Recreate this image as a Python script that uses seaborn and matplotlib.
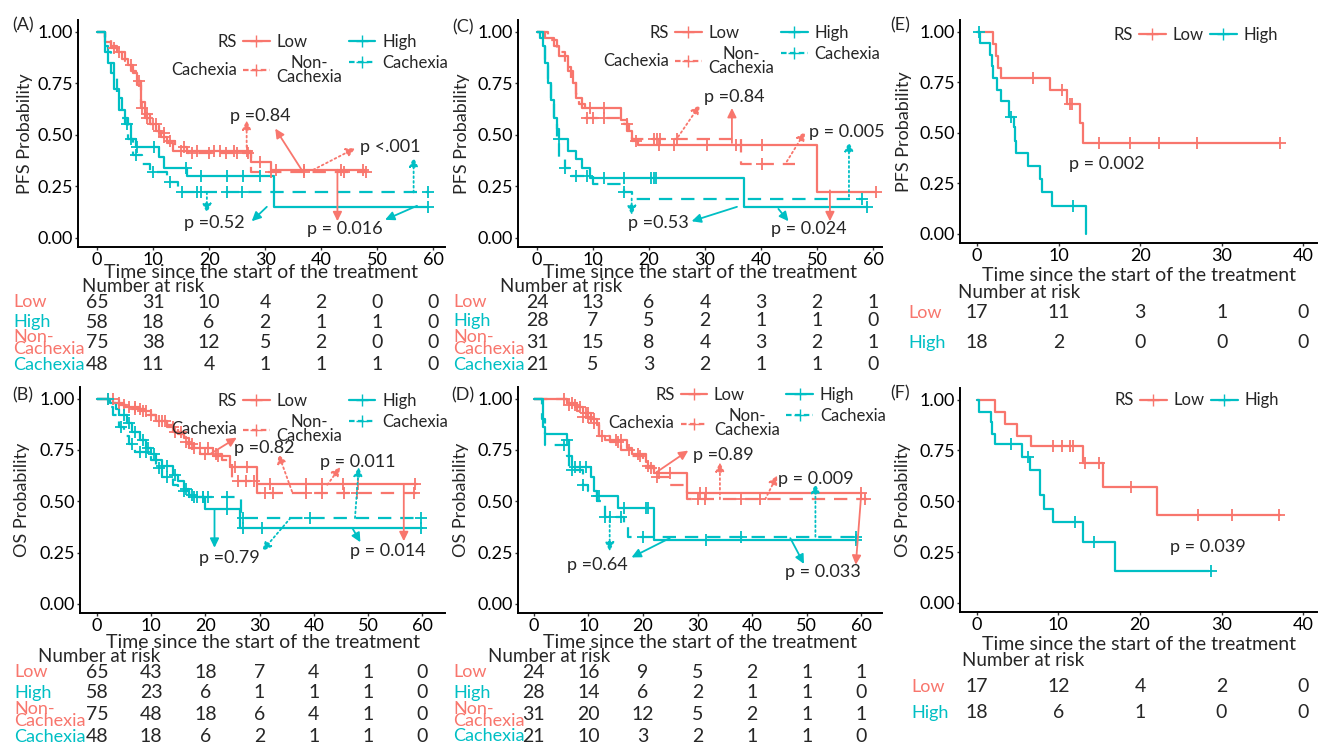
import numpy as np
import pandas as pd
import matplotlib
matplotlib.use("Agg")
import matplotlib.pyplot as plt
import matplotlib.transforms as mtransforms
from matplotlib.lines import Line2D
import seaborn as sns

sns.set_theme(style="ticks")
plt.rcParams["font.family"] = ["Lato", "DejaVu Sans"]

RED = "#F8766D"
CYAN = "#00BFC4"
W, H = 1318, 744

# ---------------- (A) PFS, RS and cachexia ----------------
a_low_t = [1.5, 2.5, 3.5, 4.5, 5.5, 6.5, 7.2, 7.8, 8.5, 9.5, 10.5, 11.5, 12.5, 13.5, 27.5, 31]
a_low_s = [0.95, 0.92, 0.90, 0.87, 0.84, 0.80, 0.74, 0.63, 0.58, 0.55, 0.52, 0.49, 0.46, 0.42, 0.37, 0.33]
a_low_end = 48
a_low_cens = [3, 6, 8, 9, 10, 11, 12, 14.9, 17.9, 20.8, 22, 24.4, 26.8, 29, 32, 36.9, 43.5, 47.5]
a_nc_t = [1.5, 2.5, 3.5, 5, 6, 7, 7.8, 8.5, 9.5, 11, 12.5, 14, 16, 27.5]
a_nc_s = [0.96, 0.93, 0.90, 0.86, 0.81, 0.76, 0.66, 0.60, 0.55, 0.51, 0.47, 0.44, 0.41, 0.32]
a_nc_end = 48
a_nc_cens = [4, 7.5, 9, 10.5, 12, 13, 15.5, 17, 20, 23, 25, 27, 31, 37, 44, 48]
a_high_t = [1.5, 2, 3, 4, 5, 6, 7, 11, 12, 16, 31.5]
a_high_s = [0.93, 0.85, 0.72, 0.62, 0.55, 0.48, 0.44, 0.39, 0.34, 0.30, 0.15]
a_high_end = 59
a_high_cens = [5.4, 7.1, 10.1, 15.8, 18.5, 23.2, 26, 29, 59]
a_cx_t = [1.5, 2.5, 3.5, 4.5, 5.5, 6.5, 8, 9.5, 12.5, 14.5]
a_cx_s = [0.90, 0.80, 0.68, 0.58, 0.48, 0.40, 0.36, 0.32, 0.27, 0.22]
a_cx_end = 59
a_cx_cens = [6, 7, 10, 13, 15.2, 17.9, 18.5, 23.2, 25.9, 59]
a_p_text = ["p =0.84", "p <.001", "p =0.52", "p = 0.016"]
a_p_x = [29.1, 52.3, 20.9, 44.3]
a_p_y = [0.59, 0.44, 0.07, 0.04]
a_arrows = [(36.5, 0.33, 31.8, 0.53, "red", "-"), (26.7, 0.44, 26.7, 0.57, "red", ":"),
            (38.6, 0.33, 46.1, 0.435, "red", ":"), (56.5, 0.22, 56.5, 0.39, "cyan", ":"),
            (19.6, 0.22, 19.6, 0.12, "cyan", ":"), (30.3, 0.15, 27.6, 0.08, "cyan", "-"),
            (42.9, 0.33, 42.9, 0.08, "red", "-"), (57.1, 0.155, 51.4, 0.087, "cyan", "-")]
a_risk_low = [65, 31, 10, 4, 2, 0, 0]
a_risk_high = [58, 18, 6, 2, 1, 1, 0]
a_risk_nc = [75, 38, 12, 5, 2, 0, 0]
a_risk_cx = [48, 11, 4, 1, 1, 1, 0]

# ---------------- (B) OS, RS and cachexia ----------------
b_low_t = [3, 5, 8, 10, 11, 13, 14, 16, 17, 18, 21.5, 24.5, 29.5]
b_low_s = [0.98, 0.96, 0.94, 0.92, 0.89, 0.87, 0.84, 0.81, 0.78, 0.76, 0.72, 0.665, 0.585]
b_low_end = 59
b_low_cens = [2, 4, 6, 7, 8.5, 9, 11.5, 12.5, 14.5, 15.5, 17.5, 19, 20.5, 22.4, 25.5, 27.6, 32,
              38.6, 41.6, 45.4, 48.2, 58.6]
b_nc_t = [4, 6, 9, 11, 13, 15, 16, 17, 19, 23, 25, 29.5]
b_nc_s = [0.97, 0.95, 0.92, 0.89, 0.86, 0.83, 0.79, 0.76, 0.73, 0.70, 0.60, 0.54]
b_nc_end = 59
b_nc_cens = [3, 5, 7, 8, 10, 12, 14, 16.5, 18, 20, 22, 26, 27.5, 29, 31, 32.5, 38.5, 41.5, 45.5, 48, 58.5]
b_high_t = [2.5, 3.5, 4, 5.5, 6.5, 8, 9, 10, 11, 12, 14, 15, 16, 17, 18, 19.9, 26.4]
b_high_s = [0.98, 0.95, 0.92, 0.88, 0.84, 0.80, 0.76, 0.73, 0.70, 0.67, 0.63, 0.60, 0.56, 0.53, 0.52,
            0.46, 0.37]
b_high_end = 60
b_high_cens = [2, 5, 6, 7, 8.5, 9.5, 10.5, 12, 13, 14.5, 16.5, 17.5, 18.5, 19.5, 24, 27, 30.4, 59.8]
b_cx_t = [2, 3, 4, 5, 6, 7, 10, 11, 12, 14, 15, 17, 26.5]
b_cx_s = [0.96, 0.92, 0.86, 0.82, 0.78, 0.74, 0.70, 0.66, 0.62, 0.58, 0.55, 0.52, 0.42]
b_cx_end = 60
b_cx_cens = [4.5, 6.5, 8, 9, 11.5, 13, 16, 18, 19.5, 20.5, 24, 27, 39.3, 59.8]
b_p_text = ["p =0.82", "p = 0.011", "p =0.79", "p = 0.014"]
b_p_x = [30.9, 48.1, 24.4, 53.6]
b_p_y = [0.76, 0.69, 0.225, 0.257]
b_arrows = [(20.9, 0.73, 25.8, 0.81, "red", "-"), (36.0, 0.547, 33.5, 0.73, "red", ":"),
            (42.5, 0.58, 44.9, 0.667, "red", ":"), (47.6, 0.418, 48.3, 0.667, "cyan", ":"),
            (21.7, 0.458, 21.7, 0.273, "cyan", "-"), (35.7, 0.418, 30.5, 0.257, "cyan", ":"),
            (56.6, 0.58, 56.6, 0.305, "red", "-"), (47.1, 0.37, 48.6, 0.30, "cyan", "-")]
b_risk_low = [65, 43, 18, 7, 4, 1, 0]
b_risk_high = [58, 23, 6, 1, 1, 1, 0]
b_risk_nc = [75, 48, 18, 6, 4, 1, 0]
b_risk_cx = [48, 18, 6, 2, 1, 1, 0]

# ---------------- (C) PFS, RS and cachexia ----------------
c_low_t = [1.5, 3, 4, 5.5, 6.5, 7, 8, 15, 16, 17, 18, 50]
c_low_s = [0.97, 0.93, 0.88, 0.81, 0.75, 0.68, 0.63, 0.57, 0.52, 0.47, 0.45, 0.22]
c_low_end = 60.5
c_low_cens = [9.5, 11.9, 17.6, 21.7, 24.4, 30.3, 35.6, 40.1, 60.5]
c_nc_t = [2, 3.5, 5, 6, 7, 7.5, 8.5, 15.5, 16.5, 17, 36.5]
c_nc_s = [0.96, 0.90, 0.83, 0.77, 0.70, 0.65, 0.58, 0.55, 0.51, 0.48, 0.36]
c_nc_end = 46
c_nc_cens = [9, 10, 12, 16, 20.8, 21.4, 22, 25, 40.1]
c_high_t = [0.5, 1, 1.5, 2, 2.5, 3, 3.5, 4, 5.5, 7, 8, 9.5, 37]
c_high_s = [0.97, 0.93, 0.85, 0.75, 0.67, 0.58, 0.53, 0.48, 0.42, 0.38, 0.34, 0.29, 0.15]
c_high_end = 59
c_high_cens = [4, 12, 15.5, 20.3, 20.8, 21.3, 59]
c_cx_t = [1, 1.5, 2, 2.5, 3, 3.5, 4, 5, 6, 10, 15.5, 17]
c_cx_s = [0.95, 0.85, 0.75, 0.65, 0.55, 0.47, 0.39, 0.34, 0.30, 0.26, 0.22, 0.19]
c_cx_end = 58
c_cx_cens = [5, 7, 9, 15.5, 58]
c_p_text = ["p =0.84", "p = 0.005", "p =0.53", "p = 0.024"]
c_p_x = [35.2, 55.4, 21.6, 48.6]
c_p_y = [0.685, 0.515, 0.07, 0.04]
c_arrows = [(25.2, 0.49, 29.1, 0.645, "red", ":"), (34.8, 0.46, 34.8, 0.63, "red", "-"),
            (44.6, 0.37, 47.9, 0.515, "red", ":"), (55.7, 0.20, 55.7, 0.465, "cyan", ":"),
            (16.9, 0.19, 16.9, 0.11, "cyan", ":"), (35.7, 0.15, 27.6, 0.08, "cyan", "-"),
            (52.3, 0.23, 52.3, 0.08, "red", "-"), (43.1, 0.14, 44.9, 0.08, "cyan", "-")]
c_risk_low = [24, 13, 6, 4, 3, 2, 1]
c_risk_high = [28, 7, 5, 2, 1, 1, 0]
c_risk_nc = [31, 15, 8, 4, 3, 2, 1]
c_risk_cx = [21, 5, 3, 2, 1, 1, 0]

# ---------------- (D) OS, RS and cachexia ----------------
d_low_t = [6, 8, 9, 10.5, 11.5, 12, 13, 17, 18, 20.5, 21, 22, 28]
d_low_s = [0.98, 0.96, 0.93, 0.90, 0.87, 0.82, 0.80, 0.76, 0.73, 0.69, 0.66, 0.64, 0.54]
d_low_end = 60
d_low_cens = [5.5, 7, 8.5, 9.5, 10, 11, 15, 16, 19, 21.5, 23, 25, 30.5, 31.5, 60]
d_nc_t = [6, 8, 9, 10.5, 12, 14, 16, 18, 20, 22, 25, 28]
d_nc_s = [0.97, 0.94, 0.91, 0.88, 0.82, 0.79, 0.75, 0.72, 0.67, 0.62, 0.58, 0.51]
d_nc_end = 61
d_nc_cens = [6.5, 7.5, 9, 10, 11, 12.5, 15.5, 17.5, 19.5, 21, 22.5, 30, 31.3, 38, 41.4, 60.7]
d_high_t = [1.6, 2, 6, 6.5, 7, 10.5, 11, 11.5, 15.5, 22]
d_high_s = [0.86, 0.83, 0.80, 0.72, 0.665, 0.62, 0.55, 0.525, 0.465, 0.31]
d_high_end = 59
d_high_cens = [6, 7.5, 8.5, 9.5, 11.5, 12, 16.5, 20.5, 21, 31.5, 59]
d_cx_t = [1.5, 2, 6, 6.5, 9, 10, 11.5, 13, 16.5, 17.3]
d_cx_s = [0.90, 0.775, 0.72, 0.65, 0.58, 0.55, 0.50, 0.425, 0.38, 0.325]
d_cx_end = 59
d_cx_cens = [5.5, 7, 9, 13, 14, 16, 20, 38, 59]
d_p_text = ["p =0.89", "p = 0.009", "p =0.64", "p = 0.033"]
d_p_x = [34.7, 51.7, 11.6, 52.9]
d_p_y = [0.727, 0.606, 0.19, 0.155]
d_arrows = [(22.5, 0.642, 28.3, 0.747, "red", "-"), (34.1, 0.51, 34.1, 0.69, "red", ":"),
            (42.4, 0.51, 44.6, 0.626, "red", ":"), (51.6, 0.327, 51.6, 0.585, "cyan", ":"),
            (13.9, 0.43, 13.9, 0.255, "cyan", ":"), (24.9, 0.32, 17.9, 0.226, "cyan", "-"),
            (60.0, 0.537, 59.0, 0.19, "red", "-"), (47.0, 0.32, 49.5, 0.194, "cyan", "-")]
d_risk_low = [24, 16, 9, 5, 2, 1, 1]
d_risk_high = [28, 14, 6, 2, 1, 1, 0]
d_risk_nc = [31, 20, 12, 5, 2, 1, 1]
d_risk_cx = [21, 10, 3, 2, 1, 1, 0]

# ---------------- (E) PFS, RS only ----------------
e_low_t = [1.9, 2.3, 2.6, 2.9, 9, 11, 12.6, 13]
e_low_s = [0.94, 0.88, 0.82, 0.77, 0.71, 0.64, 0.55, 0.45]
e_low_end = 37.2
e_low_cens = [6.8, 10.4, 11.45, 11.7, 14.9, 18.8, 22.3, 27, 37.1]
e_high_t = [0.3, 1.6, 1.8, 2.0, 2.5, 2.9, 3.9, 4.5, 4.7, 4.8, 6.3, 7.7, 8.0, 9.2, 13.4]
e_high_s = [0.945, 0.885, 0.83, 0.77, 0.71, 0.655, 0.58, 0.53, 0.46, 0.40, 0.335, 0.27, 0.205, 0.14, 0.0]
e_high_end = 13.4
e_high_cens = [0.2, 4.1, 11.8]
e_p_text = ["p = 0.002"]
e_p_x = [15.9]
e_p_y = [0.345]
e_risk_low = [17, 11, 3, 1, 0]
e_risk_high = [18, 2, 0, 0, 0]

# ---------------- (F) OS, RS only ----------------
f_low_t = [2.3, 3.5, 4.9, 6.6, 13, 15.5, 22.1]
f_low_s = [0.94, 0.88, 0.82, 0.77, 0.69, 0.57, 0.43]
f_low_end = 37.2
f_low_cens = [9.3, 10.4, 11.4, 11.75, 13.3, 15.0, 18.9, 27.1, 31.3, 37.1]
f_high_t = [0.3, 1.7, 1.9, 2.3, 5.6, 6.5, 7.8, 8.3, 9.3, 13, 17]
f_high_s = [0.94, 0.89, 0.83, 0.78, 0.72, 0.655, 0.53, 0.46, 0.40, 0.30, 0.155]
f_high_end = 28.5
f_high_cens = [4.2, 6.3, 12, 14.4, 28.7]
f_p_text = ["p = 0.039"]
f_p_x = [28.3]
f_p_y = [0.274]
f_risk_low = [17, 12, 4, 2, 0]
f_risk_high = [18, 6, 1, 0, 0]

ticks60 = [0, 10, 20, 30, 40, 50, 60]
ticks40 = [0, 10, 20, 30, 40]
group_names = ["Low", "High", "Non-\nCachexia", "Cachexia"]
COLORS = {"red": RED, "cyan": CYAN}
DASH = (0, (6, 4))


def step_frame(t, s, end):
    return pd.DataFrame({"time": [0.0] + list(t) + [end],
                         "surv": [1.0] + list(s) + [s[-1]]})


def surv_at(t, s, c):
    s_full = np.r_[1.0, s]
    return s_full[np.searchsorted(np.asarray(t), np.asarray(c), side="right")]


def km_curve(ax, t, s, end, cens, color, dashed):
    sns.lineplot(data=step_frame(t, s, end), x="time", y="surv", ax=ax, color=color,
                 lw=1.6, drawstyle="steps-post", estimator=None, sort=False,
                 linestyle=DASH if dashed else "-")
    cdf = pd.DataFrame({"time": cens, "surv": surv_at(t, s, cens)})
    sns.scatterplot(data=cdf, x="time", y="surv", ax=ax, color=color, marker="+",
                    s=80, linewidth=1.3, zorder=3)


def make_axes(fig, left, top, right, bottom):
    return fig.add_axes([left / W, 1 - bottom / H, (right - left) / W, (bottom - top) / H])


def style_axes(ax, xlim, ticks, ylabel, ylab_x_px, xlab_y_px, left, top, right, bottom):
    ax.set_xlim(*xlim)
    ax.set_ylim(-0.045, 1.057)
    ax.set_xticks(ticks)
    ax.set_yticks([0, 0.25, 0.5, 0.75, 1.0])
    ax.set_yticklabels(["0.00", "0.25", "0.50", "0.75", "1.00"])
    sns.despine(ax=ax)
    for sp in ["left", "bottom"]:
        ax.spines[sp].set_linewidth(1.4)
        ax.spines[sp].set_color("black")
    ax.tick_params(length=2.5, width=1, color="#333333", labelsize=13, pad=1, labelcolor="black")
    ax.set_ylabel(ylabel, fontsize=13, va="center", ha="center")
    ax.yaxis.set_label_coords((ylab_x_px - left) / (right - left), 0.5)
    ax.set_xlabel("Time since the start of the treatment", fontsize=14, va="center")
    ax.xaxis.set_label_coords(0.5, -(xlab_y_px - bottom) / (bottom - top))


legends = []


def add_legend(ax, four, anchor):
    low = Line2D([], [], color=RED, lw=1.6, marker="+", ms=9)
    high = Line2D([], [], color=CYAN, lw=1.6, marker="+", ms=9)
    if four:
        nc = Line2D([], [], color=RED, lw=1.6, linestyle=(0, (2.5, 1.5)), marker="+", ms=9)
        cx = Line2D([], [], color=CYAN, lw=1.6, linestyle=(0, (2.5, 1.5)), marker="+", ms=9)
        handles = [low, nc, high, cx]
        labels = ["Low", "Non-\nCachexia", "High", "Cachexia"]
        titles = ["RS", "Cachexia"]
    else:
        handles = [low, high]
        labels = ["Low", "High"]
        titles = ["RS"]
    leg = ax.legend(handles, labels, ncol=2, loc="upper right", bbox_to_anchor=anchor,
                    frameon=False, fontsize=12, handlelength=1.6, handletextpad=0.4,
                    columnspacing=0.4, borderaxespad=0, borderpad=0, labelspacing=0.3)
    for txt in leg.get_texts():
        txt.set_multialignment("center")
        txt.set_linespacing(0.85)
    legends.append((leg, titles))


def place_legend_titles(fig):
    # row titles ("RS", "Cachexia") go to the left of each legend row
    fig.canvas.draw()
    renderer = fig.canvas.get_renderer()
    for leg, titles in legends:
        box = leg.get_window_extent(renderer)
        texts = leg.get_texts()
        for i, title in enumerate(titles):
            tb = texts[i].get_window_extent(renderer)
            yc = 0.5 * (tb.y0 + tb.y1)
            fig.text((box.x0 - 6) / W, yc / H, title, fontsize=12, ha="right", va="center")


def add_pvalues(ax, texts, xs, ys, arrows):
    for txt, x, y in zip(texts, xs, ys):
        ax.text(x, y, txt, fontsize=13, ha="center", va="center")
    for x0, y0, x1, y1, col, ls in arrows:
        ax.annotate("", xy=(x1, y1), xytext=(x0, y0),
                    arrowprops=dict(arrowstyle="-|>,head_length=0.45,head_width=0.22",
                                    color=COLORS[col], lw=1.3, linestyle=ls,
                                    shrinkA=0, shrinkB=0))


def risk_table(fig, ax, ticks, rows, labels, colors, label_x, row_y, nar_x, nar_y):
    tr = mtransforms.blended_transform_factory(ax.transData, fig.transFigure)
    fig.text(nar_x / W, 1 - nar_y / H, "Number at risk", fontsize=13.5, ha="left", va="center")
    for vals, lab, col, y in zip(rows, labels, colors, row_y):
        fy = 1 - y / H
        fig.text(label_x / W, fy, lab, color=col, fontsize=13, ha="left", va="center",
                 linespacing=0.7)
        for t, v in zip(ticks, vals):
            ax.text(t, fy, str(v), transform=tr, fontsize=14, ha="center", va="center",
                    clip_on=False)


fig = plt.figure(figsize=(W / 100, H / 100), dpi=100)
fig.patch.set_facecolor("white")

four_colors = [RED, CYAN, RED, CYAN]

# ---- (A)
box = (78, 20, 445, 247)
ax = make_axes(fig, *box)
km_curve(ax, a_low_t, a_low_s, a_low_end, a_low_cens, RED, False)
km_curve(ax, a_nc_t, a_nc_s, a_nc_end, a_nc_cens, RED, True)
km_curve(ax, a_high_t, a_high_s, a_high_end, a_high_cens, CYAN, False)
km_curve(ax, a_cx_t, a_cx_s, a_cx_end, a_cx_cens, CYAN, True)
style_axes(ax, (-3.4, 62.1), ticks60, "PFS Probability", 25, 273, *box)
add_legend(ax, True, (1.008, 0.94))
add_pvalues(ax, a_p_text, a_p_x, a_p_y, a_arrows)
risk_table(fig, ax, ticks60, [a_risk_low, a_risk_high, a_risk_nc, a_risk_cx], group_names,
           four_colors, 13, [302, 322, 343, 365], 82, 286)
fig.text(23 / W, 1 - 25 / H, "(A)", fontsize=13, ha="center", va="center")

# ---- (C)
box = (518, 20, 882, 247)
ax = make_axes(fig, *box)
km_curve(ax, c_low_t, c_low_s, c_low_end, c_low_cens, RED, False)
km_curve(ax, c_nc_t, c_nc_s, c_nc_end, c_nc_cens, RED, True)
km_curve(ax, c_high_t, c_high_s, c_high_end, c_high_cens, CYAN, False)
km_curve(ax, c_cx_t, c_cx_s, c_cx_end, c_cx_cens, CYAN, True)
style_axes(ax, (-3.4, 61.6), ticks60, "PFS Probability", 462, 273, *box)
add_legend(ax, True, (0.995, 0.98))
add_pvalues(ax, c_p_text, c_p_x, c_p_y, c_arrows)
risk_table(fig, ax, ticks60, [c_risk_low, c_risk_high, c_risk_nc, c_risk_cx], group_names,
           four_colors, 453, [302, 321, 343, 365], 500, 286)
fig.text(463 / W, 1 - 27 / H, "(C)", fontsize=13, ha="center", va="center")

# ---- (E)
box = (960, 20, 1317, 243)
ax = make_axes(fig, *box)
km_curve(ax, e_low_t, e_low_s, e_low_end, e_low_cens, RED, False)
km_curve(ax, e_high_t, e_high_s, e_high_end, e_high_cens, CYAN, False)
style_axes(ax, (-2.1, 41.7), ticks40, "PFS Probability", 904, 275, *box)
add_legend(ax, False, (0.89, 0.97))
add_pvalues(ax, e_p_text, e_p_x, e_p_y, [])
risk_table(fig, ax, ticks40, [e_risk_low, e_risk_high], ["Low", "High"], [RED, CYAN],
           908, [313, 343], 958, 292)
fig.text(900 / W, 1 - 25 / H, "(E)", fontsize=13, ha="center", va="center")

# ---- (B)
box = (80, 387, 445, 613)
ax = make_axes(fig, *box)
km_curve(ax, b_low_t, b_low_s, b_low_end, b_low_cens, RED, False)
km_curve(ax, b_nc_t, b_nc_s, b_nc_end, b_nc_cens, RED, True)
km_curve(ax, b_high_t, b_high_s, b_high_end, b_high_cens, CYAN, False)
km_curve(ax, b_cx_t, b_cx_s, b_cx_end, b_cx_cens, CYAN, True)
style_axes(ax, (-3.1, 64.2), ticks60, "OS Probability", 22, 642, *box)
add_legend(ax, True, (1.008, 0.972))
add_pvalues(ax, b_p_text, b_p_x, b_p_y, b_arrows)
risk_table(fig, ax, ticks60, [b_risk_low, b_risk_high, b_risk_nc, b_risk_cx], group_names,
           four_colors, 14, [672, 693, 715, 737], 38, 656)
fig.text(23 / W, 1 - 395 / H, "(B)", fontsize=13, ha="center", va="center")

# ---- (D)
box = (518, 387, 882, 613)
ax = make_axes(fig, *box)
km_curve(ax, d_low_t, d_low_s, d_low_end, d_low_cens, RED, False)
km_curve(ax, d_nc_t, d_nc_s, d_nc_end, d_nc_cens, RED, True)
km_curve(ax, d_high_t, d_high_s, d_high_end, d_high_cens, CYAN, False)
km_curve(ax, d_cx_t, d_cx_s, d_cx_end, d_cx_cens, CYAN, True)
style_axes(ax, (-2.9, 63.8), ticks60, "OS Probability", 461, 642, *box)
add_legend(ax, True, (1.01, 1.0))
add_pvalues(ax, d_p_text, d_p_x, d_p_y, d_arrows)
risk_table(fig, ax, ticks60, [d_risk_low, d_risk_high, d_risk_nc, d_risk_cx], group_names,
           four_colors, 453, [672, 693, 715, 736], 488, 656)
fig.text(463 / W, 1 - 395 / H, "(D)", fontsize=13, ha="center", va="center")

# ---- (F)
box = (960, 388, 1317, 612)
ax = make_axes(fig, *box)
km_curve(ax, f_low_t, f_low_s, f_low_end, f_low_cens, RED, False)
km_curve(ax, f_high_t, f_high_s, f_high_end, f_high_cens, CYAN, False)
style_axes(ax, (-2.05, 41.7), ticks40, "OS Probability", 903, 645, *box)
add_legend(ax, False, (0.893, 0.98))
add_pvalues(ax, f_p_text, f_p_x, f_p_y, [])
risk_table(fig, ax, ticks40, [f_risk_low, f_risk_high], ["Low", "High"], [RED, CYAN],
           911, [687, 713], 962, 661)
fig.text(900 / W, 1 - 393 / H, "(F)", fontsize=13, ha="center", va="center")

place_legend_titles(fig)
fig.savefig("out.png", dpi=100, facecolor="white")
